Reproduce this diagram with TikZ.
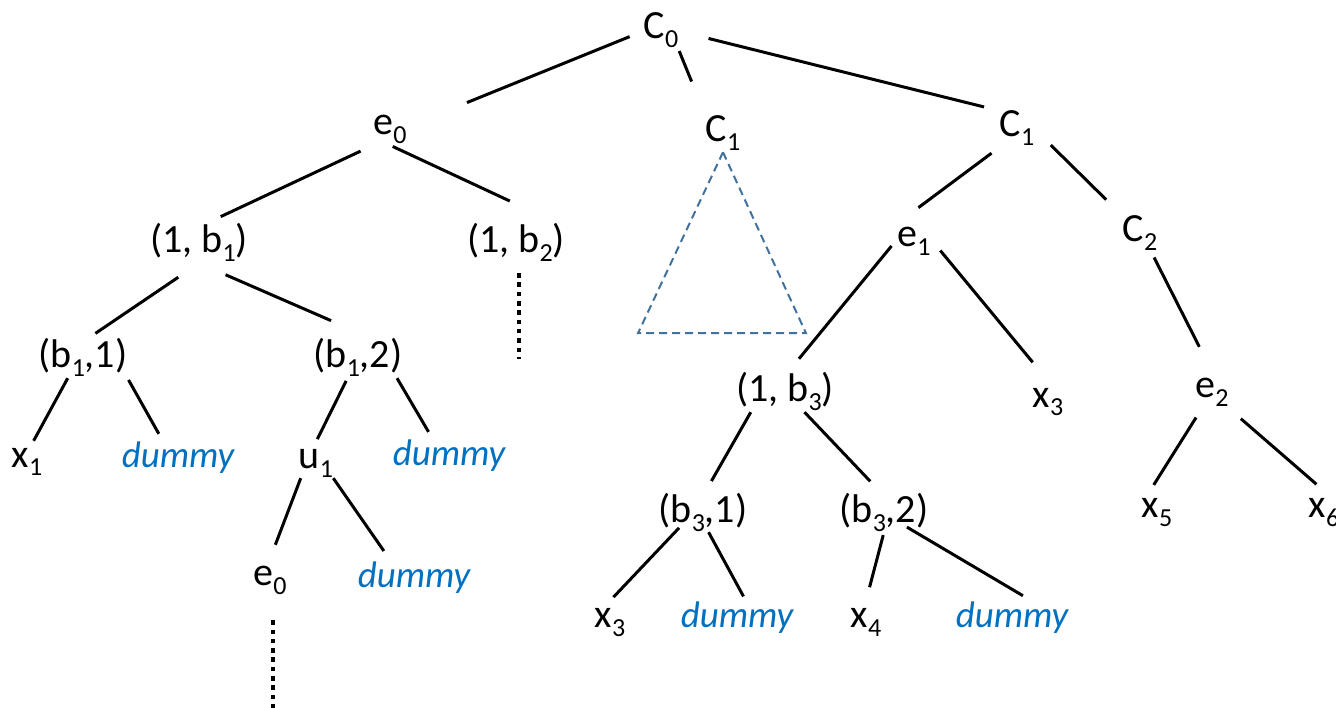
\documentclass[tikz,border=0pt]{standalone}
\usepackage{fontspec}
\setmainfont{Carlito}
\usetikzlibrary{positioning}

\definecolor{dumblue}{HTML}{0070C0}
\definecolor{tricol}{HTML}{41719C}
\newcommand{\sub}[1]{\raisebox{-9pt}{\fontsize{26}{26}\selectfont #1}}

\begin{document}
\begin{tikzpicture}[
  x=1pt,y=-1pt,
  lbl/.style={font=\fontsize{40}{40}\selectfont, inner sep=0pt, anchor=base, text height=26pt, text depth=10pt},
  dum/.style={lbl, text=dumblue, font=\fontsize{37}{37}\selectfont\itshape},
  edge/.style={line width=3pt},
  dotline/.style={line width=4.5pt, dash pattern=on 4.5pt off 4.8pt},
  tri/.style={draw=tricol, line width=2pt, dash pattern=on 8pt off 5pt}
]
\useasboundingbox (0,0) rectangle (1336,708);
% top levels
\node[lbl] (C0) at (661,39) {C\sub{0}};
\node[lbl] (e0) at (390,135) {e\sub{0}};
\node[lbl] (C1m) at (723,142) {C\sub{1}};
\node[lbl] (C1r) at (1017,137) {C\sub{1}};
\node[lbl] (p1b1) at (199,253) {(1, b\sub{1})};
\node[lbl] (p1b2) at (516,253) {(1, b\sub{2})};
\node[lbl] (e1) at (914,247) {e\sub{1}};
\node[lbl] (C2) at (1140,242) {C\sub{2}};
% middle levels
\node[lbl] (pb11) at (83,368) {(b\sub{1},1)};
\node[lbl] (pb12) at (358,368) {(b\sub{1},2)};
\node[lbl] (p1b3) at (785,402) {(1, b\sub{3})};
\node[lbl] (x3r) at (1048,407) {x\sub{3}};
\node[lbl] (e2) at (1212,398) {e\sub{2}};
\node[lbl] (x1) at (27,467) {x\sub{1}};
\node[dum] (dumA) at (178,467) {dummy};
\node[lbl] (u1) at (316,468) {u\sub{1}};
\node[dum] (dumB) at (449,465) {dummy};
\node[lbl] (pb31) at (703,522) {(b\sub{3},1)};
\node[lbl] (pb32) at (884,522) {(b\sub{3},2)};
\node[lbl] (x5) at (1157,517) {x\sub{5}};
\node[lbl] (x6) at (1324,517) {x\sub{6}};
% bottom level
\node[lbl] (e0b) at (270,585) {e\sub{0}};
\node[dum] (dumC) at (414,587) {dummy};
\node[lbl] (x3b) at (610,627) {x\sub{3}};
\node[dum] (dumD) at (737,627) {dummy};
\node[lbl] (x4) at (866,627) {x\sub{4}};
\node[dum] (dumE) at (1012,627) {dummy};
\coordinate (b2end) at (519,359);
\coordinate (e0end) at (273,708);
% edges
\draw[edge, shorten <=15pt, shorten >=65pt] (C0.west) -- (e0.east);
\draw[edge, shorten <=2pt, shorten >=37pt] (C0.south east) -- (C1m.north west);
\draw[edge, shorten <=31pt, shorten >=16pt] (C0.east) -- (C1r.north west);
\draw[edge, shorten <=14pt, shorten >=24pt] (e0.south west) -- (p1b1.north);
\draw[edge, shorten <=3pt, shorten >=61pt] (e0.south) -- (p1b2.north east);
\draw[edge, shorten <=25pt, shorten >=15pt] (p1b1.south) -- (pb11.north);
\draw[edge, shorten <=29pt, shorten >=53pt] (p1b1.south) -- (pb12.40);
\draw[edge] (pb11.230) -- (x1.70);
\draw[edge, shorten <=2pt, shorten >=8pt] (pb11.south east) -- (dumA.130);
\draw[edge, shorten <=3pt, shorten >=3pt] (pb12.240) -- (u1.north);
\draw[edge, shorten >=8pt] (pb12.-25) -- (dumB.132);
\draw[edge, shorten >=15pt] (u1.230) -- (e0b.north);
\draw[edge, shorten >=12pt] (u1.south east) -- (dumC.142);
\draw[edge, shorten <=10pt, shorten >=22pt] (C1r.south west) -- (e1.126);
\draw[edge, shorten <=23pt, shorten >=23pt] (C1r.east) -- (C2.north west);
\draw[edge, shorten <=9pt, shorten >=22pt] (e1.west) -- (p1b3.north);
\draw[edge, shorten <=15pt, shorten >=24pt] (e1.east) -- (x3r.north);
\draw[edge, shorten <=6pt, shorten >=28pt] (C2.-58) -- (e2.north);
\draw[edge, shorten >=17pt] (p1b3.208) -- (pb31.north);
\draw[edge, shorten >=20pt] (p1b3.-43) -- (pb32.north);
\draw[edge, shorten <=11pt, shorten >=7pt] (e2.241) -- (x5.111);
\draw[edge, shorten <=16pt, shorten >=10pt] (e2.south east) -- (x6.north);
\draw[edge, shorten <=-6pt, shorten >=5pt] (pb31.213) -- (x3b.north);
\draw[edge, shorten >=5pt] (pb31.-73) -- (dumD.64);
\draw[edge, shorten <=3pt, shorten >=14pt] (pb32.south) -- (x4.north);
\draw[edge, shorten <=-10pt, shorten >=10pt] (pb32.-30) -- (dumE.43);
% elided subtrees
\draw[dotline, shorten <=10pt] (b2end |- p1b2.south) -- (b2end);
\draw[dotline, shorten <=25pt] (e0end |- e0b.south) -- (e0end);
\draw[tri] (C1m.south) -- ++(83,181) -- ++(-168,0) -- cycle;
\end{tikzpicture}
\end{document}
